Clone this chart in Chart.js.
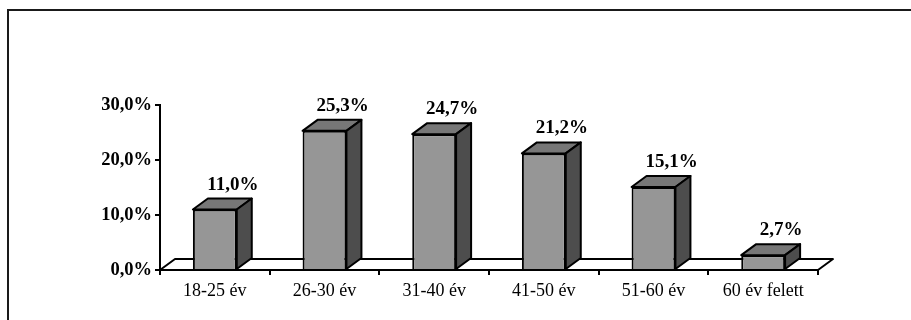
<!DOCTYPE html>
<html>
<head>
<meta charset="utf-8">
<script src="https://cdn.jsdelivr.net/npm/chart.js@4/dist/chart.umd.min.js"></script>
<style>
    html, body { margin: 0; padding: 0; background: #fff; }
    #wrap { width: 911px; height: 320px; position: relative; }
</style>
</head>
<body>
<div id="wrap"><canvas id="barChart" width="911" height="320"></canvas></div>
<script>
// Data
const categories = ['18-25 év', '26-30 év', '31-40 év', '41-50 év', '51-60 év', '60 év felett'];
const shares = [11.0, 25.3, 24.7, 21.2, 15.1, 2.7];
const yTicks = [0, 10, 20, 30];

// 3D depth offset for bars and floor
const DX = 15;
const DY = -11;
const serif = '"Liberation Serif", "Times New Roman", serif';

function pct(v) {
    return v.toFixed(1).replace('.', ',') + '%';
}

function poly(ctx, pts, fill) {
    ctx.beginPath();
    ctx.moveTo(pts[0][0], pts[0][1]);
    for (let i = 1; i < pts.length; i++) ctx.lineTo(pts[i][0], pts[i][1]);
    ctx.closePath();
    ctx.fillStyle = fill;
    ctx.fill();
    ctx.stroke();
}

// Outer frame + white background
const framePlugin = {
    id: 'frame',
    beforeDraw(chart) {
        const ctx = chart.ctx;
        ctx.save();
        ctx.fillStyle = '#fff';
        ctx.fillRect(0, 0, chart.width, chart.height);
        ctx.strokeStyle = '#1a1a1a';
        ctx.lineWidth = 2;
        ctx.beginPath();
        ctx.moveTo(8, chart.height);
        ctx.lineTo(8, 10);
        ctx.lineTo(chart.width, 10);
        ctx.stroke();
        ctx.restore();
    }
};

// Floor parallelogram under the bars
const floorPlugin = {
    id: 'floor',
    beforeDatasetsDraw(chart) {
        const ctx = chart.ctx;
        const a = chart.chartArea;
        ctx.save();
        ctx.strokeStyle = '#000';
        ctx.lineWidth = 2;
        ctx.lineJoin = 'round';
        poly(ctx, [
            [a.left, a.bottom],
            [a.right, a.bottom],
            [a.right + DX, a.bottom + DY],
            [a.left + DX, a.bottom + DY]
        ], '#fff');
        ctx.restore();
    }
};

// Top and side faces of each bar, plus value labels
const boxPlugin = {
    id: 'box3d',
    afterDatasetsDraw(chart) {
        const ctx = chart.ctx;
        const meta = chart.getDatasetMeta(0);
        ctx.save();
        ctx.strokeStyle = '#000';
        ctx.lineWidth = 2;
        ctx.lineJoin = 'round';
        meta.data.forEach((bar, i) => {
            const p = bar.getProps(['x', 'y', 'base', 'width'], true);
            const l = p.x - p.width / 2;
            const r = p.x + p.width / 2;
            poly(ctx, [[l, p.y], [r, p.y], [r + DX, p.y + DY], [l + DX, p.y + DY]], '#777777');
            poly(ctx, [[r, p.y], [r + DX, p.y + DY], [r + DX, p.base + DY], [r, p.base]], '#4d4d4d');
            ctx.fillStyle = '#000';
            ctx.font = 'bold 19px ' + serif;
            ctx.textAlign = 'center';
            ctx.textBaseline = 'alphabetic';
            ctx.fillText(pct(shares[i]), p.x + 18, p.y + DY - 9);
        });
        ctx.restore();
    }
};

const config = {
    type: 'bar',
    data: {
        labels: categories,
        datasets: [{
            data: shares,
            backgroundColor: '#969696',
            borderColor: '#000',
            borderWidth: 2,
            categoryPercentage: 1.0,
            barPercentage: 0.4
        }]
    },
    options: {
        responsive: false,
        animation: false,
        layout: {
            padding: { top: 105, right: 93, bottom: 0, left: 0 }
        },
        scales: {
            x: {
                grid: {
                    display: true,
                    drawOnChartArea: false,
                    drawTicks: true,
                    tickLength: 5,
                    color: '#000',
                    lineWidth: 2,
                    offset: true
                },
                border: { display: true, color: '#000', width: 2 },
                ticks: {
                    color: '#000',
                    padding: 5,
                    maxRotation: 0,
                    font: { family: serif, size: 18 }
                },
                afterFit: (s) => { s.height = 50; }
            },
            y: {
                min: yTicks[0],
                max: yTicks[yTicks.length - 1],
                afterBuildTicks: (s) => { s.ticks = yTicks.map(v => ({ value: v })); },
                grid: {
                    display: true,
                    drawOnChartArea: false,
                    drawTicks: true,
                    tickLength: 5,
                    color: '#000',
                    lineWidth: 2
                },
                border: { display: true, color: '#000', width: 2 },
                ticks: {
                    color: '#000',
                    padding: 3,
                    font: { family: serif, size: 18.5, weight: 'bold' },
                    callback: (v) => pct(v)
                },
                afterFit: (s) => { s.width = 160; }
            }
        },
        plugins: {
            legend: { display: false },
            tooltip: { enabled: false }
        }
    },
    plugins: [framePlugin, floorPlugin, boxPlugin]
};

new Chart(document.getElementById('barChart').getContext('2d'), config);
</script>
</body>
</html>
